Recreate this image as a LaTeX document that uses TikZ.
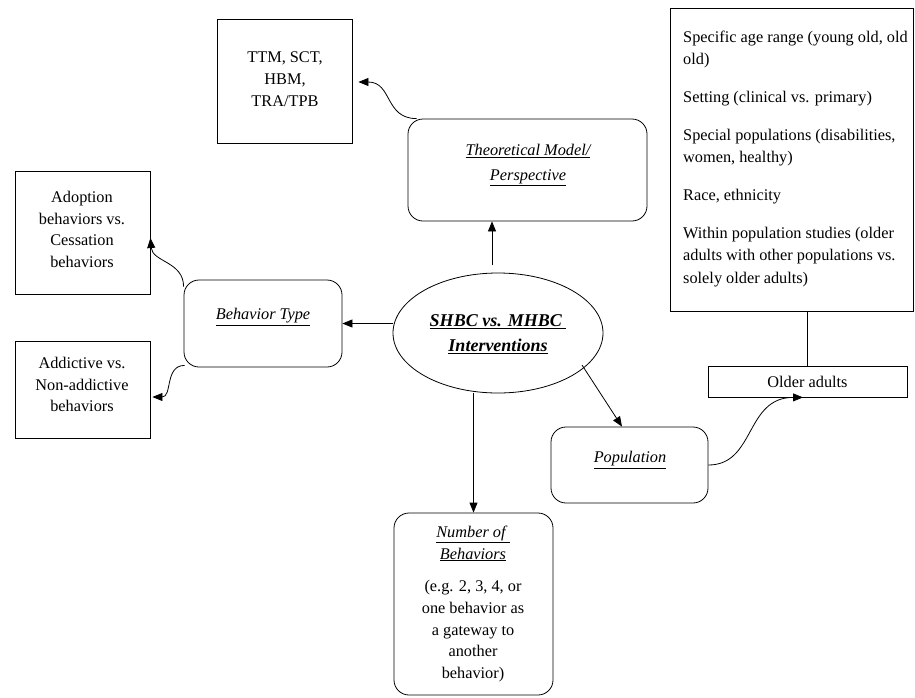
\documentclass[tikz,border=0pt]{standalone}
\usepackage{fontspec}
\setmainfont{Liberation Serif}
\usetikzlibrary{arrows.meta,shapes.geometric}
\tikzset{
  box/.style={draw, line width=0.8pt, inner sep=0pt, minimum width=#1},
  rbox/.style={box=#1, rounded corners=15pt},
  ellbox/.style={draw, ellipse, line width=0.8pt, inner sep=0pt},
  txt/.style={inner sep=0pt, align=center, font=\fontsize{16.3}{21.7}\selectfont},
  ltxt/.style={inner sep=0pt, align=left, font=\fontsize{16.3}{22.4}\selectfont},
  itxt/.style={txt, font=\fontsize{16.3}{24.5}\selectfont\itshape},
  etxt/.style={inner sep=0pt, align=center, font=\fontsize{18}{25}\selectfont\bfseries\itshape},
  arr/.style={line width=0.8pt, -{Triangle[length=10pt,width=8pt]}},
  conn/.style={line width=0.8pt}
}
\begin{document}
\begin{tikzpicture}[x=1pt,y=-1pt]
\useasboundingbox (0,0) rectangle (915,697);
% boxes
\node[box=135pt, minimum height=124pt] (ttm) at (284.5,81) {};
\node[rbox=239pt, minimum height=102pt] (theory) at (527.5,170) {};
\node[box=135pt, minimum height=123pt] (adopt) at (82.5,232.5) {};
\node[box=135pt, minimum height=97pt] (addict) at (82.5,389.5) {};
\node[rbox=158pt, minimum height=87pt] (behav) at (263,323.5) {};
\node[ellbox, minimum width=210pt, minimum height=120pt] (ell) at (498,333) {};
\node[rbox=157pt, minimum height=76pt] (pop) at (629.5,465) {};
\node[rbox=159pt, minimum height=182pt] (num) at (473.5,604) {};
\node[box=243pt, minimum height=303pt] (rightbox) at (791.5,159.5) {};
\node[box=199pt, minimum height=31pt] (older) at (807.5,381.5) {};
% texts
\node[txt] (ttmtext) at (285,79) {TTM, SCT,\\HBM,\\TRA/TPB};
\node[itxt] (theorytext) at (528,165) {\underline{Theoretical Model/}\\\underline{Perspective}};
\node[txt] (adopttext) at (82,229.5) {Adoption\\behaviors vs.\\Cessation\\behaviors};
\node[txt] (addicttext) at (82,384.5) {Addictive vs.\\Non-addictive\\behaviors};
\node[itxt] (behavtext) at (263,317) {\underline{Behavior Type}};
\node[etxt] (elltext) at (498,334) {\underline{SHBC vs. MHBC\ }\\\underline{Interventions}};
\node[itxt] (poptext) at (630,460) {\underline{Population}};
\node[txt] (numtext) at (473,604) {\itshape\underline{Number of\ }\\\itshape\underline{Behaviors}\\[11pt](e.g. 2, 3, 4, or\\one behavior as\\a gateway to\\another\\behavior)};
\node[txt] (oldertext) at (807.5,382) {Older adults};
\node[ltxt, anchor=north west] (righttext) at (683,30.5) {Specific age range (young old, old\\old)\\[15.5pt]Setting (clinical vs. primary)\\[15.5pt]Special populations (disabilities,\\women, healthy)\\[15.5pt]Race, ethnicity\\[15.5pt]Within population studies (older\\adults with other populations vs.\\solely older adults)};
% connectors
\coordinate (upstart) at (492,265);
\draw[arr] (upstart) -- (upstart |- theory.south);
\draw[arr] (behav.east -| ell.west) -- (behav.east);
\draw[arr] (num.north |- ell.south) -- (num.north);
\coordinate (diagstart) at (582,365);
\draw[arr] (diagstart) -- ([xshift=-7.5pt]pop.north);
\draw[conn] (older.north |- rightbox.south) -- (older.north);
\draw[arr] ([xshift=9pt]theory.north west) .. controls +(-32,0) and +(34,0) .. ([xshift=6pt,yshift=-1pt]ttm.east);
\draw[arr] ([yshift=-7pt]behav.north west) .. controls +(0,-25) and +(2,24) .. ([yshift=-5.5pt]adopt.east);
\draw[arr] ([xshift=1pt,yshift=2pt]behav.south west) .. controls +(-20,0) and +(20,0) .. ([xshift=2pt,yshift=-7.5pt]addict.east);
\draw[arr] (pop.east) .. controls +(47,0) and +(-58,0) .. ([xshift=-4.5pt]older.south);
\end{tikzpicture}
\end{document}
